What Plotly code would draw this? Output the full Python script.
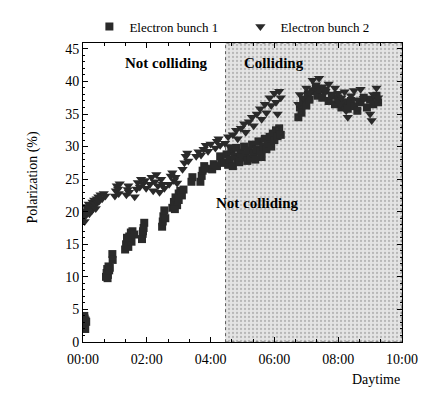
import plotly.graph_objects as go

# ---- data (hours since 00:00, polarization %) ----
b1_t = [0.02, 0.03, 0.05, 0.06, 0.08, 0.04, 0.07, 0.10,
        0.72, 0.74, 0.76, 0.78, 0.80, 0.82, 0.84, 0.77, 0.92, 0.93,
        1.32, 1.35, 1.40, 1.42, 1.45, 1.50, 1.52, 1.55, 1.60, 1.38,
        1.85, 1.87, 1.90, 1.92, 1.88,
        2.48, 2.50, 2.52, 2.55, 2.58,
        2.80, 2.85, 2.90, 2.95, 3.00, 3.05, 3.10, 3.15, 2.88, 3.00,
        3.40, 3.43,
        3.68, 3.72, 3.75, 3.80, 3.85,
        4.05, 4.10, 4.20, 4.30, 4.35,
        4.45, 4.50, 4.55, 4.60, 4.65, 4.70, 4.75, 4.80, 4.85, 4.90, 4.95, 5.00,
        5.05, 5.10, 5.15, 5.20, 5.25, 5.30, 5.35, 5.40, 5.45, 5.50, 5.55, 5.60,
        5.65, 5.70, 5.75, 5.80, 5.85, 5.90, 5.95, 6.00, 6.05, 6.10, 6.15, 6.20,
        6.75, 6.80, 6.85, 6.90, 7.00, 7.05, 7.10, 7.20, 7.30, 7.35, 7.45, 7.50,
        7.60, 7.70, 7.80, 7.90, 8.00, 8.10, 8.20, 8.30, 8.40, 8.50, 8.60, 8.70,
        8.80, 8.90, 9.00, 9.10, 9.20, 9.25]
b1_p = [2.2, 3.0, 3.6, 2.6, 3.3, 4.0, 2.0, 3.1,
        10.0, 10.6, 11.2, 10.3, 11.6, 11.0, 11.4, 9.8, 13.5, 12.6,
        14.2, 15.0, 15.6, 14.6, 16.2, 16.8, 15.4, 17.0, 16.5, 16.0,
        15.8, 16.6, 17.5, 18.3, 17.0,
        17.7, 18.5, 19.3, 20.2, 19.0,
        20.6, 21.5, 22.2, 21.0, 22.8, 23.2, 22.5, 23.4, 20.4, 21.8,
        24.6, 25.3,
        24.6, 25.5, 26.3, 27.0, 26.6,
        26.5, 27.3, 27.0, 28.5, 27.6,
        27.5, 28.8, 27.2, 28.0, 29.3, 27.0, 28.5, 29.8, 28.0, 27.6, 29.0, 28.3,
        30.0, 28.8, 27.8, 29.4, 28.2, 30.3, 29.0, 28.0, 29.6, 30.8, 29.2, 28.4,
        30.0, 31.2, 29.6, 30.5, 31.5, 30.0, 32.0, 31.0, 32.5, 31.6, 32.8, 31.8,
        34.5, 36.0, 35.2, 37.0, 36.3, 38.0, 37.2, 38.5, 39.0, 37.8, 38.8, 37.5,
        38.6, 37.0, 37.8, 36.5, 37.4, 36.0, 36.8, 35.8, 37.0, 36.2, 35.5, 36.8,
        37.5, 36.0, 37.2, 36.5, 37.8, 36.8]

b2_t = [0.02, 0.05, 0.08, 0.10, 0.12, 0.15, 0.18, 0.20, 0.22, 0.25, 0.28, 0.30,
        0.33, 0.35, 0.38, 0.40, 0.43, 0.45, 0.48, 0.50, 0.55, 0.60, 0.65, 0.70, 0.05,
        1.00, 1.03, 1.06, 1.10, 1.12, 1.15,
        1.36, 1.40, 1.42, 1.44,
        1.62, 1.68, 1.72, 1.78, 1.82, 1.88, 1.94, 1.98,
        2.10, 2.15, 2.20, 2.25, 2.30, 2.35, 2.40, 2.45, 2.50, 2.55,
        2.70, 2.75, 2.80, 2.85, 2.90, 2.95,
        3.12, 3.18, 3.22, 3.27, 3.30,
        3.55, 3.62, 3.70, 3.78, 3.85, 3.92, 4.00,
        4.15, 4.20, 4.25, 4.30,
        4.45, 4.55, 4.60, 4.70, 4.80, 4.85, 4.95, 5.05, 5.10, 5.20, 5.30, 5.35,
        5.45, 5.55, 5.60, 5.70, 5.75, 5.85, 5.90, 6.00, 6.05, 6.15, 6.20, 6.10,
        6.75, 6.80, 6.90, 7.00, 7.10, 7.20, 7.30, 7.40, 7.50, 7.60, 7.70, 7.80,
        7.90, 8.00, 8.05, 8.10, 8.20, 8.25, 8.30, 8.40, 8.50, 8.60, 8.70, 8.80,
        8.90, 9.00, 9.05, 9.10, 9.20, 9.25]
b2_p = [19.0, 20.2, 19.5, 20.8, 19.8, 20.5, 21.2, 19.7, 20.6, 21.0, 20.2, 21.5,
        20.8, 21.8, 21.2, 20.5, 22.0, 21.4, 22.3, 21.6, 22.6, 22.0, 22.8, 22.4, 18.5,
        22.4, 23.2, 24.0, 23.5, 22.8, 24.3,
        22.6, 23.4, 24.0, 23.0,
        22.3, 23.5, 24.5, 23.8, 25.0, 24.3, 24.8, 23.6,
        24.2, 25.3, 23.2, 24.6, 25.7, 24.0, 23.0, 25.0, 24.2, 23.6,
        24.2, 25.5, 26.0, 24.8, 25.3, 24.4,
        26.5, 27.5, 28.5, 29.0, 27.8,
        28.5, 29.2, 28.7, 29.6, 30.2, 29.3, 30.4,
        29.8, 30.8, 31.2, 30.2,
        30.5, 31.5, 30.0, 31.8, 32.5, 31.2, 32.8, 33.5, 32.2, 33.8, 34.5, 33.2,
        35.0, 35.8, 34.2, 36.5, 35.2, 37.5, 36.3, 38.2, 36.8, 38.5, 37.5, 35.0,
        36.5, 38.0, 37.5, 39.0, 38.3, 40.2, 39.5, 40.5, 39.2, 38.5, 39.6, 38.0,
        39.0, 38.2, 36.5, 37.5, 38.4, 35.5, 34.5, 37.8, 38.6, 37.2, 38.8, 37.4,
        36.2, 35.0, 34.0, 38.0, 39.0, 37.5]

collide_start = 4.47
x_tickvals = [0, 2, 4, 6, 8, 10]
x_ticktext = ["00:00", "02:00", "04:00", "06:00", "08:00", "10:00"]
y_top = 45.9

SERIF = "Liberation Serif, Times New Roman, serif"
MARK = "#2a2a2a"

fig = go.Figure()

# shaded "colliding" region
fig.add_trace(go.Scatter(
    x=[collide_start, 10, 10, collide_start, collide_start],
    y=[0, 0, y_top, y_top, 0],
    mode="lines", fill="toself",
    fillcolor="#d6d6d6",
    fillpattern=dict(shape=".", bgcolor="#e4e4e4", fgcolor="#8a8a8a", size=4, solidity=0.25),
    line=dict(color="#555555", width=1, dash="dot"),
    showlegend=False, hoverinfo="skip"))

fig.add_trace(go.Scatter(
    x=b1_t, y=b1_p, mode="markers", name="Electron bunch 1",
    marker=dict(symbol="square", size=8, color=MARK, line=dict(width=0))))
fig.add_trace(go.Scatter(
    x=b2_t, y=b2_p, mode="markers", name="Electron bunch 2",
    marker=dict(symbol="triangle-down", size=9, color=MARK, line=dict(width=0))))

fig.update_layout(
    width=430, height=402,
    margin=dict(l=83, r=23, t=27, b=60),
    paper_bgcolor="white", plot_bgcolor="white",
    font=dict(family=SERIF, size=14, color="black"),
    legend=dict(orientation="h", x=0.02, y=1.055, xanchor="left", yanchor="middle",
                font=dict(family=SERIF, size=13), itemwidth=30,
                entrywidth=106, entrywidthmode="pixels",
                bgcolor="rgba(0,0,0,0)"),
    xaxis=dict(range=[0, 10], tickvals=x_tickvals, ticktext=x_ticktext,
               ticks="inside", ticklen=5, tickcolor="black", mirror="ticks",
               showline=True, linecolor="black", linewidth=1, showgrid=False,
               zeroline=False, ticklabelstandoff=4,
               minor=dict(dtick=2/3, ticks="inside", ticklen=3, tickcolor="black", tick0=0),
               tickfont=dict(family=SERIF, size=14)),
    yaxis=dict(range=[0, y_top], tickvals=[0, 5, 10, 15, 20, 25, 30, 35, 40, 45],
               ticks="inside", ticklen=5, tickcolor="black", mirror="ticks",
               showline=True, linecolor="black", linewidth=1, showgrid=False,
               zeroline=False,
               minor=dict(dtick=1, ticks="inside", ticklen=2, tickcolor="black"),
               tickfont=dict(family=SERIF, size=14)),
    annotations=[
        dict(text="<b>Not colliding</b>", x=2.62, y=42.9, xref="x", yref="y",
             showarrow=False, font=dict(family=SERIF, size=15)),
        dict(text="<b>Colliding</b>", x=6.0, y=42.9, xref="x", yref="y",
             showarrow=False, font=dict(family=SERIF, size=15)),
        dict(text="<b>Not colliding</b>", x=5.46, y=21.4, xref="x", yref="y",
             showarrow=False, font=dict(family=SERIF, size=15)),
        dict(text="Polarization (%)", x=-0.188, y=0.711, xref="paper", yref="paper",
             textangle=-90, showarrow=False, font=dict(family=SERIF, size=14)),
        dict(text="Daytime", x=1.0, y=-0.125, xref="paper", yref="paper",
             xanchor="right", yanchor="middle", showarrow=False,
             font=dict(family=SERIF, size=14)),
    ],
)

fig.write_html("out.html")
